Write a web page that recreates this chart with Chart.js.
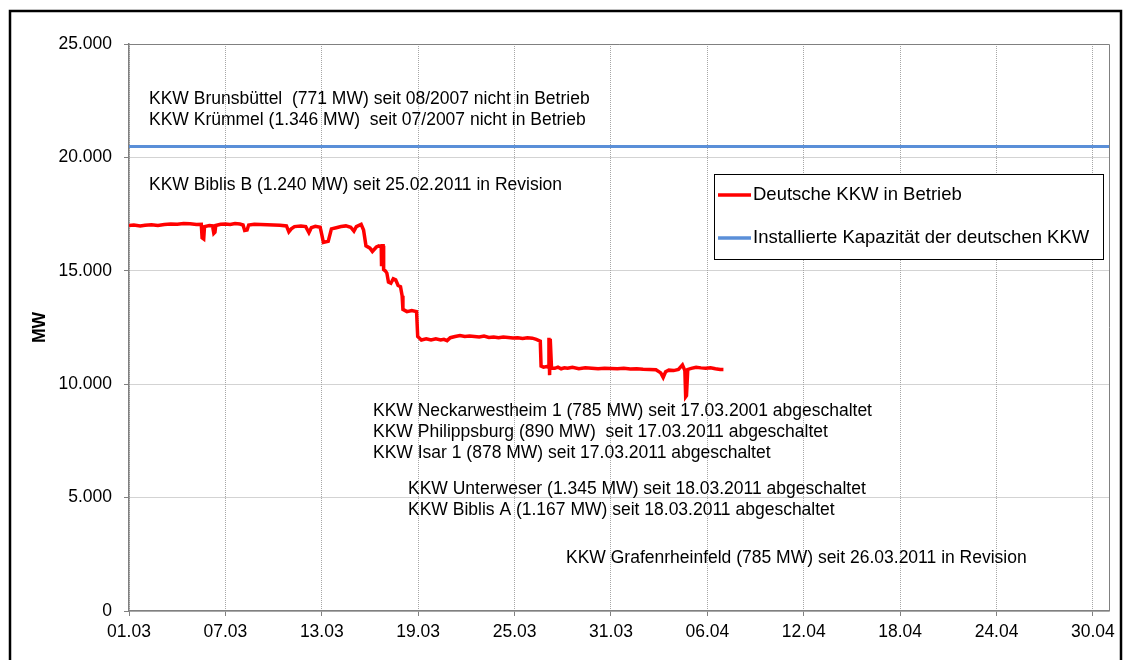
<!DOCTYPE html>
<html>
<head>
<meta charset="utf-8">
<script src="https://cdn.jsdelivr.net/npm/chart.js@4/dist/chart.umd.min.js"></script>
<style>
  body { margin: 0; background: #fff; }
  #wrap { width: 1133px; height: 660px; }
</style>
</head>
<body>
<div id="wrap"><canvas id="kkwChart" width="1133" height="660"></canvas></div>
<script>
// Day 0 = 01.03.2011
const days = [
  0, 0.3, 0.7, 1.0, 1.4, 1.8, 2.2, 2.6, 3.0, 3.4, 3.8, 4.2, 4.5, 4.55, 4.65, 4.7,
  5.0, 5.2, 5.28, 5.35, 5.4, 5.7, 6.0, 6.3, 6.6, 6.9, 7.1, 7.2, 7.35, 7.45, 7.8,
  8.2, 8.6, 9.0, 9.4, 9.8, 9.95, 10.1, 10.3, 10.7, 11.0, 11.2, 11.35, 11.6, 11.9,
  12.0, 12.1, 12.4, 12.6, 12.9, 13.2, 13.5, 13.8, 14.0, 14.15, 14.45, 14.6, 14.75,
  15.0, 15.15, 15.4, 15.55, 15.7, 15.72, 15.76, 15.82, 15.85, 15.95, 16.05, 16.15,
  16.3, 16.45, 16.6, 16.75, 16.9, 17.0, 17.05, 17.3, 17.6, 17.9, 17.97, 18.2, 18.5,
  18.8, 19.1, 19.4, 19.6, 19.8, 20.0, 20.3, 20.6, 20.9, 21.2, 21.5, 21.8, 22.1,
  22.4, 22.7, 23.0, 23.3, 23.6, 23.9, 24.2, 24.5, 24.8, 25.1, 25.35, 25.6, 25.65,
  25.8, 26.0, 26.1, 26.14, 26.18, 26.22, 26.3, 26.5, 26.7, 26.9, 27.1, 27.3, 27.6,
  28.0, 28.4, 28.8, 29.2, 29.6, 30.0, 30.4, 30.8, 31.2, 31.6, 32.0, 32.4, 32.8,
  33.1, 33.25, 33.4, 33.6, 33.9, 34.2, 34.45, 34.6, 34.65, 34.7, 34.78, 35.0, 35.3,
  35.6, 35.9, 36.2, 36.5, 36.8, 37.0
];
const mwInBetrieb = [
  17000, 17020, 16980, 17010, 17030, 17000, 17040, 17060, 17050, 17080, 17070, 17040, 17050, 16450, 16400, 16950,
  17000, 16980, 16650, 16700, 17000, 17050, 17060, 17040, 17080, 17060, 17020, 16780, 16800, 17020, 17050,
  17040, 17030, 17020, 17010, 16980, 16720, 16850, 16950, 16980, 16950, 16680, 16900, 16960, 16920,
  16600, 16250, 16300, 16850, 16900, 16950, 16980, 16920, 16750, 16950, 17050, 16800, 16100,
  16000, 15850, 16050, 16100, 16050, 15200, 16100, 16100, 15050, 15000, 14900, 14500,
  14450, 14650, 14600, 14350, 14300, 13900, 13300, 13200, 13250, 13200, 12100, 11950, 12000,
  11950, 12000, 11950, 11980, 11920, 12050, 12100, 12150, 12100, 12120, 12100, 12080, 12120,
  12060, 12080, 12050, 12080, 12060, 12040, 12050, 12020, 12050, 12030, 11980, 11900, 10800,
  10750, 10780, 10750, 12050, 10400, 12000, 10700, 10700, 10750, 10680, 10720, 10700, 10750,
  10680, 10720, 10700, 10680, 10700, 10690, 10680, 10700, 10670, 10680, 10660, 10650, 10640,
  10500, 10300, 10550, 10620, 10600, 10650, 10850, 10600, 9450, 9500, 10650, 10700, 10750,
  10720, 10700, 10720, 10680, 10650, 10650
];
const capacityDays = [0, 61];
const capacityMW = [20480, 20480];

const seriesLabels = ['Deutsche KKW in Betrieb', 'Installierte Kapazität der deutschen KKW'];
const dateTicks = ['01.03', '07.03', '13.03', '19.03', '25.03', '31.03', '06.04', '12.04', '18.04', '24.04', '30.04'];
const yTicks = ['0', '5.000', '10.000', '15.000', '20.000', '25.000'];

const notes = [
  'KKW Brunsbüttel  (771 MW) seit 08/2007 nicht in Betrieb',
  'KKW Krümmel (1.346 MW)  seit 07/2007 nicht in Betrieb',
  'KKW Biblis B (1.240 MW) seit 25.02.2011 in Revision',
  'KKW Neckarwestheim 1 (785 MW) seit 17.03.2001 abgeschaltet',
  'KKW Philippsburg (890 MW)  seit 17.03.2011 abgeschaltet',
  'KKW Isar 1 (878 MW) seit 17.03.2011 abgeschaltet',
  'KKW Unterweser (1.345 MW) seit 18.03.2011 abgeschaltet',
  'KKW Biblis A (1.167 MW) seit 18.03.2011 abgeschaltet',
  'KKW Grafenrheinfeld (785 MW) seit 26.03.2011 in Revision'
];
// pixel anchors (left, middle) for the notes
const notePos = [[149, 99], [149, 120], [149, 185], [373, 411], [373, 432], [373, 453], [408, 489], [408, 510], [566, 558]];

const FONT = 'Liberation Sans, Arial, sans-serif';

const framePlugin = {
  id: 'frame',
  beforeDatasetsDraw(chart) {
    const { ctx, chartArea: a } = chart;
    ctx.save();
    ctx.strokeStyle = '#808080';
    ctx.lineWidth = 1;
    ctx.beginPath();
    ctx.moveTo(a.left, a.top + 0.5);
    ctx.lineTo(a.right + 0.5, a.top + 0.5);
    ctx.lineTo(a.right + 0.5, a.bottom);
    ctx.stroke();
    ctx.restore();
  },
  afterDraw(chart) {
    const ctx = chart.ctx;
    ctx.save();
    // notes
    ctx.fillStyle = '#000';
    ctx.font = '17.5px ' + FONT;
    ctx.textBaseline = 'middle';
    ctx.textAlign = 'left';
    notes.forEach((t, i) => ctx.fillText(t, notePos[i][0], notePos[i][1]));

    // legend box
    const bx = 714, by = 174, bw = 389, bh = 85;
    ctx.fillStyle = '#fff';
    ctx.fillRect(bx, by, bw, bh);
    ctx.strokeStyle = '#000';
    ctx.lineWidth = 1;
    ctx.strokeRect(bx + 0.5, by + 0.5, bw, bh);
    ctx.font = '18.5px ' + FONT;
    const rows = [195, 238];
    chart.data.datasets.forEach((ds, i) => {
      ctx.strokeStyle = ds.borderColor;
      ctx.lineWidth = 3.5;
      ctx.beginPath();
      ctx.moveTo(718, rows[i]);
      ctx.lineTo(751, rows[i]);
      ctx.stroke();
      ctx.fillStyle = '#000';
      ctx.fillText(ds.label, 753, rows[i]);
    });

    // outer frame
    ctx.strokeStyle = '#000';
    ctx.lineWidth = 2.5;
    ctx.strokeRect(10, 11, 1111, 700);
    ctx.restore();
  }
};

const ctx = document.getElementById('kkwChart').getContext('2d');
new Chart(ctx, {
  type: 'line',
  data: {
    datasets: [{
      label: seriesLabels[0],
      data: days.map((d, i) => ({ x: d, y: mwInBetrieb[i] })),
      borderColor: '#ff0000',
      borderWidth: 3.5,
      pointRadius: 0,
      tension: 0
    }, {
      label: seriesLabels[1],
      data: capacityDays.map((d, i) => ({ x: d, y: capacityMW[i] })),
      borderColor: '#5a8fd8',
      borderWidth: 3,
      pointRadius: 0,
      tension: 0
    }]
  },
  options: {
    responsive: false,
    animation: false,
    layout: { padding: { left: 0, top: 44, right: 24, bottom: 0 } },
    plugins: { legend: { display: false }, tooltip: { enabled: false } },
    scales: {
      x: {
        type: 'linear',
        min: 0,
        max: 61,
        afterFit: s => { s.height = 49; },
        afterBuildTicks: s => { s.ticks = dateTicks.map((_, i) => ({ value: i * 6 })); },
        ticks: {
          stepSize: 6,
          padding: 6,
          color: '#000',
          font: { family: FONT, size: 17.5 },
          maxRotation: 0,
          autoSkip: false,
          callback: (v, i) => dateTicks[i]
        },
        grid: {
          color: '#a6a6a6',
          lineWidth: 1,
          tickLength: 5,
          tickColor: '#808080',
          tickBorderDash: []
        },
        border: { color: '#808080', width: 1.5, dash: [1, 1] }
      },
      y: {
        min: 0,
        max: 25000,
        afterFit: s => { s.width = 129; },
        afterBuildTicks: s => { s.ticks = yTicks.map((_, i) => ({ value: i * 5000 })); },
        ticks: {
          stepSize: 5000,
          padding: 12,
          color: '#000',
          font: { family: FONT, size: 17.5 },
          callback: (v, i) => yTicks[i]
        },
        title: {
          display: true,
          text: 'MW',
          color: '#000',
          font: { family: FONT, size: 17.5, weight: 'bold' },
          padding: { top: 30, bottom: 0 }
        },
        grid: {
          color: '#a6a6a6',
          lineWidth: 1,
          tickLength: 5,
          tickColor: '#808080',
          tickBorderDash: []
        },
        border: { color: '#808080', width: 1.5, dash: [1, 1] }
      }
    }
  },
  plugins: [framePlugin]
});
</script>
</body>
</html>
